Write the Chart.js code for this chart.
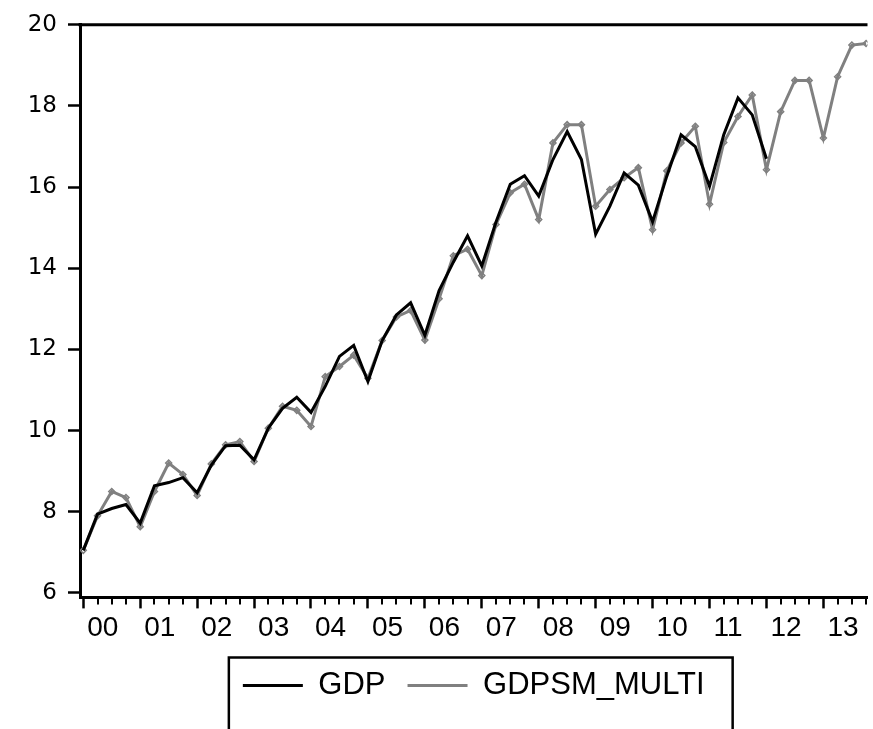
<!DOCTYPE html>
<html><head><meta charset="utf-8">
<script src="https://cdn.jsdelivr.net/npm/chart.js@4/dist/chart.umd.min.js"></script>
<style>html,body{margin:0;padding:0;background:#fff;}canvas{display:block;}</style>
</head><body>
<canvas id="c" width="873" height="729"></canvas>
<script>
// ---- data ----
const yearLabels = ['00','01','02','03','04','05','06','07','08','09','10','11','12','13'];
const quarterNames = ['Q1','Q2','Q3','Q4'];
const quarters = yearLabels.flatMap(y => quarterNames.map(q => '20' + y + q));
const gdp = [
  7.05, 7.94, 8.08, 8.18,
  7.72, 8.64, 8.72, 8.84,
  8.47, 9.15, 9.63, 9.64,
  9.28, 10.06, 10.55, 10.82,
  10.45, 11.09, 11.83, 12.10,
  11.21, 12.22, 12.85, 13.15,
  12.35, 13.45, 14.15, 14.80,
  14.06, 15.14, 16.07, 16.28,
  15.78, 16.68, 17.37, 16.68,
  14.84, 15.53, 16.35, 16.05,
  15.15, 16.27, 17.29, 17.00,
  16.02, 17.29, 18.20, 17.78,
  16.70
];
const gdpsmMulti = [
  7.05, 7.90, 8.50, 8.35,
  7.63, 8.50, 9.20, 8.92,
  8.40, 9.18, 9.65, 9.73,
  9.24, 10.06, 10.60, 10.50,
  10.10, 11.33, 11.58, 11.86,
  11.29, 12.22, 12.80, 12.96,
  12.23, 13.25, 14.31, 14.47,
  13.82, 15.08, 15.86, 16.07,
  15.20, 17.09, 17.54, 17.54,
  15.53, 15.94, 16.23, 16.48,
  14.95, 16.40, 17.09, 17.50,
  15.58, 17.10, 17.74, 18.27,
  16.43, 17.86, 18.63, 18.63,
  17.21, 18.72, 19.50, 19.54
];
const yTicks = [6, 8, 10, 12, 14, 16, 18, 20];
const seriesNames = ['GDP', 'GDPSM_MULTI'];

// ---- decoration plugin ----
const decor = {
  id: 'decor',
  beforeDraw(chart) {
    const ctx = chart.ctx;
    ctx.save(); ctx.fillStyle = '#fff'; ctx.fillRect(0, 0, chart.width, chart.height); ctx.restore();
  },
  afterDraw(chart) {
    const {ctx, chartArea: a, scales: {x}} = chart;
    ctx.save();
    ctx.strokeStyle = '#000';
    // top frame line
    ctx.lineWidth = 3;
    ctx.beginPath(); ctx.moveTo(a.left - 1.5, a.top); ctx.lineTo(a.right, a.top); ctx.stroke();
    // minor (quarter) ticks
    ctx.lineWidth = 2;
    ctx.beginPath();
    quarters.forEach((q, i) => {
      if (i % 4 !== 0) {
        const px = Math.round(x.getPixelForValue(i));
        ctx.moveTo(px, a.bottom); ctx.lineTo(px, a.bottom + 7);
      }
    });
    ctx.stroke();
    // legend frame
    const lg = chart.legend;
    const hb = lg.legendHitBoxes;
    if (hb && hb.length) {
      const first = hb[0], last = hb[hb.length - 1];
      const left = first.left - 14;
      const right = last.left + last.width + 28;
      const top = first.top + first.height / 2 - 28;
      ctx.lineWidth = 2.5;
      ctx.beginPath();
      ctx.moveTo(left, chart.height + 5); ctx.lineTo(left, top); ctx.lineTo(right, top); ctx.lineTo(right, chart.height + 5);
      ctx.stroke();
    }
    ctx.restore();
  }
};

const chart = new Chart(document.getElementById('c'), {
  type: 'line',
  data: {
    datasets: [
      {
        label: seriesNames[0],
        data: gdp.map((v, i) => ({x: i, y: v})),
        borderColor: '#000000',
        backgroundColor: '#000000',
        borderWidth: 3,
        pointRadius: 0,
        tension: 0
      },
      {
        label: seriesNames[1],
        data: gdpsmMulti.map((v, i) => ({x: i, y: v})),
        borderColor: '#808080',
        backgroundColor: 'rgba(0,0,0,0)',
        borderWidth: 3,
        pointRadius: 3,
        pointStyle: 'rectRot',
        pointBorderWidth: 1.5,
        pointBorderColor: '#808080',
        pointBackgroundColor: 'rgba(0,0,0,0)',
        tension: 0
      }
    ]
  },
  options: {
    responsive: false,
    animation: false,
    devicePixelRatio: 1,
    layout: {padding: {top: 24, right: 0, left: 0, bottom: 18}},
    scales: {
      x: {
        type: 'linear',
        bounds: 'data',
        min: -0.23,
        max: 55.1,
        afterBuildTicks: s => { s.ticks = quarters.map((q, i) => ({value: i})); },
        ticks: {
          autoSkip: false,
          maxRotation: 0,
          align: 'start',
          labelOffset: 4,
          padding: 3,
          color: '#000',
          font: {family: 'Liberation Sans', size: 28},
          callback: (v) => (v % 4 === 0 ? yearLabels[v / 4] : '')
        },
        grid: {
          display: true,
          drawOnChartArea: false,
          drawTicks: true,
          tickLength: 11,
          tickWidth: 2.5,
          tickColor: (c) => (c.tick && c.tick.value % 4 === 0 ? '#000' : 'rgba(0,0,0,0)')
        },
        border: {display: true, color: '#000', width: 3}
      },
      y: {
        type: 'linear',
        bounds: 'data',
        min: 5.89,
        max: 20,
        afterBuildTicks: s => { s.ticks = yTicks.map(v => ({value: v})); },
        afterFit: s => { s.width = 80; },
        ticks: {
          padding: 11,
          color: '#000',
          font: {family: 'DejaVu Sans', size: 23},
          callback: v => String(v)
        },
        grid: {
          display: true,
          drawOnChartArea: false,
          drawTicks: true,
          tickLength: 12,
          tickWidth: 2.5,
          tickColor: '#000'
        },
        border: {display: true, color: '#000', width: 3}
      }
    },
    plugins: {
      tooltip: {enabled: false},
      legend: {
        display: true,
        position: 'bottom',
        fullSize: false,
        labels: {
          boxWidth: 60,
          boxHeight: 3,
          padding: 22,
          color: '#000',
          font: {family: 'Liberation Sans', size: 31},
          generateLabels: (ch) => ch.data.datasets.map((d, i) => ({
            text: d.label,
            fillStyle: d.borderColor,
            strokeStyle: d.borderColor,
            lineWidth: 0,
            hidden: false,
            datasetIndex: i
          }))
        }
      }
    }
  },
  plugins: [decor]
});
</script>
</body></html>
